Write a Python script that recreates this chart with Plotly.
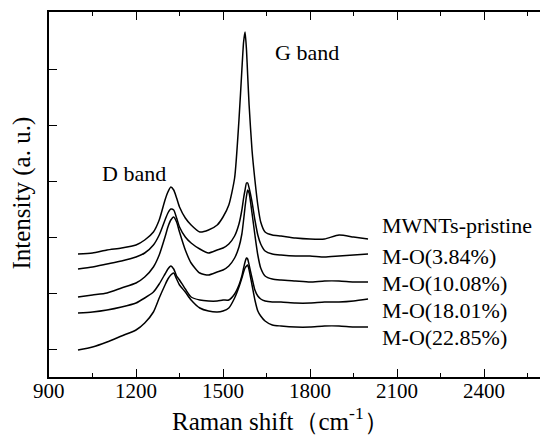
import plotly.graph_objects as go

# Raman shift (cm-1)
raman_shift = [1000, 1050, 1100, 1150, 1200, 1230, 1260, 1280, 1300, 1310,
               1320, 1330, 1340, 1350, 1370, 1390, 1420, 1450, 1480, 1500,
               1520, 1540, 1555, 1565, 1571, 1576, 1581, 1585, 1590, 1600,
               1610, 1620, 1630, 1645, 1670, 1700, 1750, 1800, 1850, 1900,
               1950, 2000]

# Intensity (a.u., stacked with offsets as in the figure)
mwnts_pristine = [146, 147, 150, 152, 155, 160, 168, 180, 200, 208,
                  213, 210, 202, 193, 182, 175, 168, 170, 175, 183,
                  195, 222, 280, 330, 358, 368, 350, 325, 295, 250,
                  220, 195, 178, 168, 165, 164, 162, 161, 161, 165,
                  163, 161]
mo_384 = [131, 133, 136, 139, 143, 147, 155, 165, 180, 187,
          191, 190, 182, 173, 163, 157, 151, 147, 150, 152,
          156, 164, 176, 190, 202, 210, 217, 217, 212, 198,
          180, 165, 156, 149, 146, 145, 144, 144, 143, 144,
          145, 146]
mo_1008 = [103, 105, 107, 112, 117, 123, 133, 145, 163, 173,
           180, 183, 178, 168, 150, 137, 127, 125, 128, 130,
           134, 142, 153, 166, 180, 193, 204, 210, 207, 187,
           165, 145, 132, 124, 121, 120, 119, 118, 119, 119,
           118, 118]
mo_1801 = [87, 88, 90, 93, 97, 102, 108, 116, 126, 131,
           134, 131, 124, 120, 111, 103, 100, 99, 99, 100,
           100, 106, 115, 124, 132, 138, 142, 141, 135, 122,
           110, 104, 101, 99, 98, 98, 97, 97, 98, 98,
           99, 101]
mo_2285 = [50, 53, 58, 64, 70, 77, 88, 102, 115, 121,
           125, 127, 121, 115, 108, 100, 92, 89, 88, 89,
           92, 102, 113, 122, 128, 132, 134, 135, 130, 115,
           100, 89, 84, 79, 75, 74, 73, 73, 74, 74,
           73, 73]

series = [mwnts_pristine, mo_384, mo_1008, mo_1801, mo_2285]
labels = ["MWNTs-pristine", "M-O(3.84%)", "M-O(10.08%)", "M-O(18.01%)", "M-O(22.85%)"]
label_y = [175, 144, 117, 90, 63]

x_ticks = [900, 1200, 1500, 1800, 2100, 2400]
y_ticks = [51, 107, 163, 219, 275, 331]

FONT = "Liberation Serif"

fig = go.Figure()
for s in series:
    fig.add_trace(go.Scatter(x=raman_shift, y=s, mode="lines",
                             line=dict(color="black", width=1.5, shape="spline", smoothing=0.6),
                             showlegend=False, hoverinfo="skip"))

for lab, ly in zip(labels, label_y):
    fig.add_annotation(x=2041, y=ly, text=lab, showarrow=False, xanchor="left", yanchor="middle",
                       font=dict(family=FONT, size=22, color="black"))

fig.add_annotation(x=1193, y=227, text="D band", showarrow=False, xanchor="center", yanchor="middle",
                   font=dict(family=FONT, size=22, color="black"))
fig.add_annotation(x=1790, y=348, text="G band", showarrow=False, xanchor="center", yanchor="middle",
                   font=dict(family=FONT, size=22, color="black"))

# x tick labels
for t in x_ticks:
    fig.add_annotation(x=t, xref="x", y=-0.037, yref="paper", text=str(t), showarrow=False,
                       xanchor="center", yanchor="middle",
                       font=dict(family=FONT, size=21, color="black"))

# axis titles
fig.add_annotation(x=0.472, xref="paper", y=-0.1164, yref="paper",
                   text="Raman shift（cm<sup>-1</sup>）", showarrow=False,
                   xanchor="center", yanchor="middle",
                   font=dict(family=FONT, size=25, color="black"))
fig.add_annotation(x=-0.054, xref="paper", y=0.504, yref="paper",
                   text="Intensity (a. u.)", showarrow=False, textangle=-90,
                   xanchor="center", yanchor="middle",
                   font=dict(family=FONT, size=25, color="black"))

fig.update_layout(
    width=540, height=444,
    margin=dict(l=49, r=0, t=12, b=67),
    paper_bgcolor="white", plot_bgcolor="white",
    font=dict(family=FONT, color="black", size=21),
)
fig.update_xaxes(
    range=[900, 2593], tickvals=x_ticks, showticklabels=False,
    ticks="inside", ticklen=8, tickwidth=1.2, tickcolor="black",
    minor=dict(dtick=150, tick0=900, ticks="inside", ticklen=4, tickcolor="black", showgrid=False),
    showline=True, linecolor="black", linewidth=1.5, mirror="ticks",
    showgrid=False, zeroline=False,
)
fig.update_yaxes(
    range=[23, 388], tickvals=y_ticks, showticklabels=False,
    ticks="inside", ticklen=8, tickwidth=1.2, tickcolor="black",
    showline=True, linecolor="black", linewidth=1.5,
    showgrid=False, zeroline=False,
)

fig.write_html("out.html")
